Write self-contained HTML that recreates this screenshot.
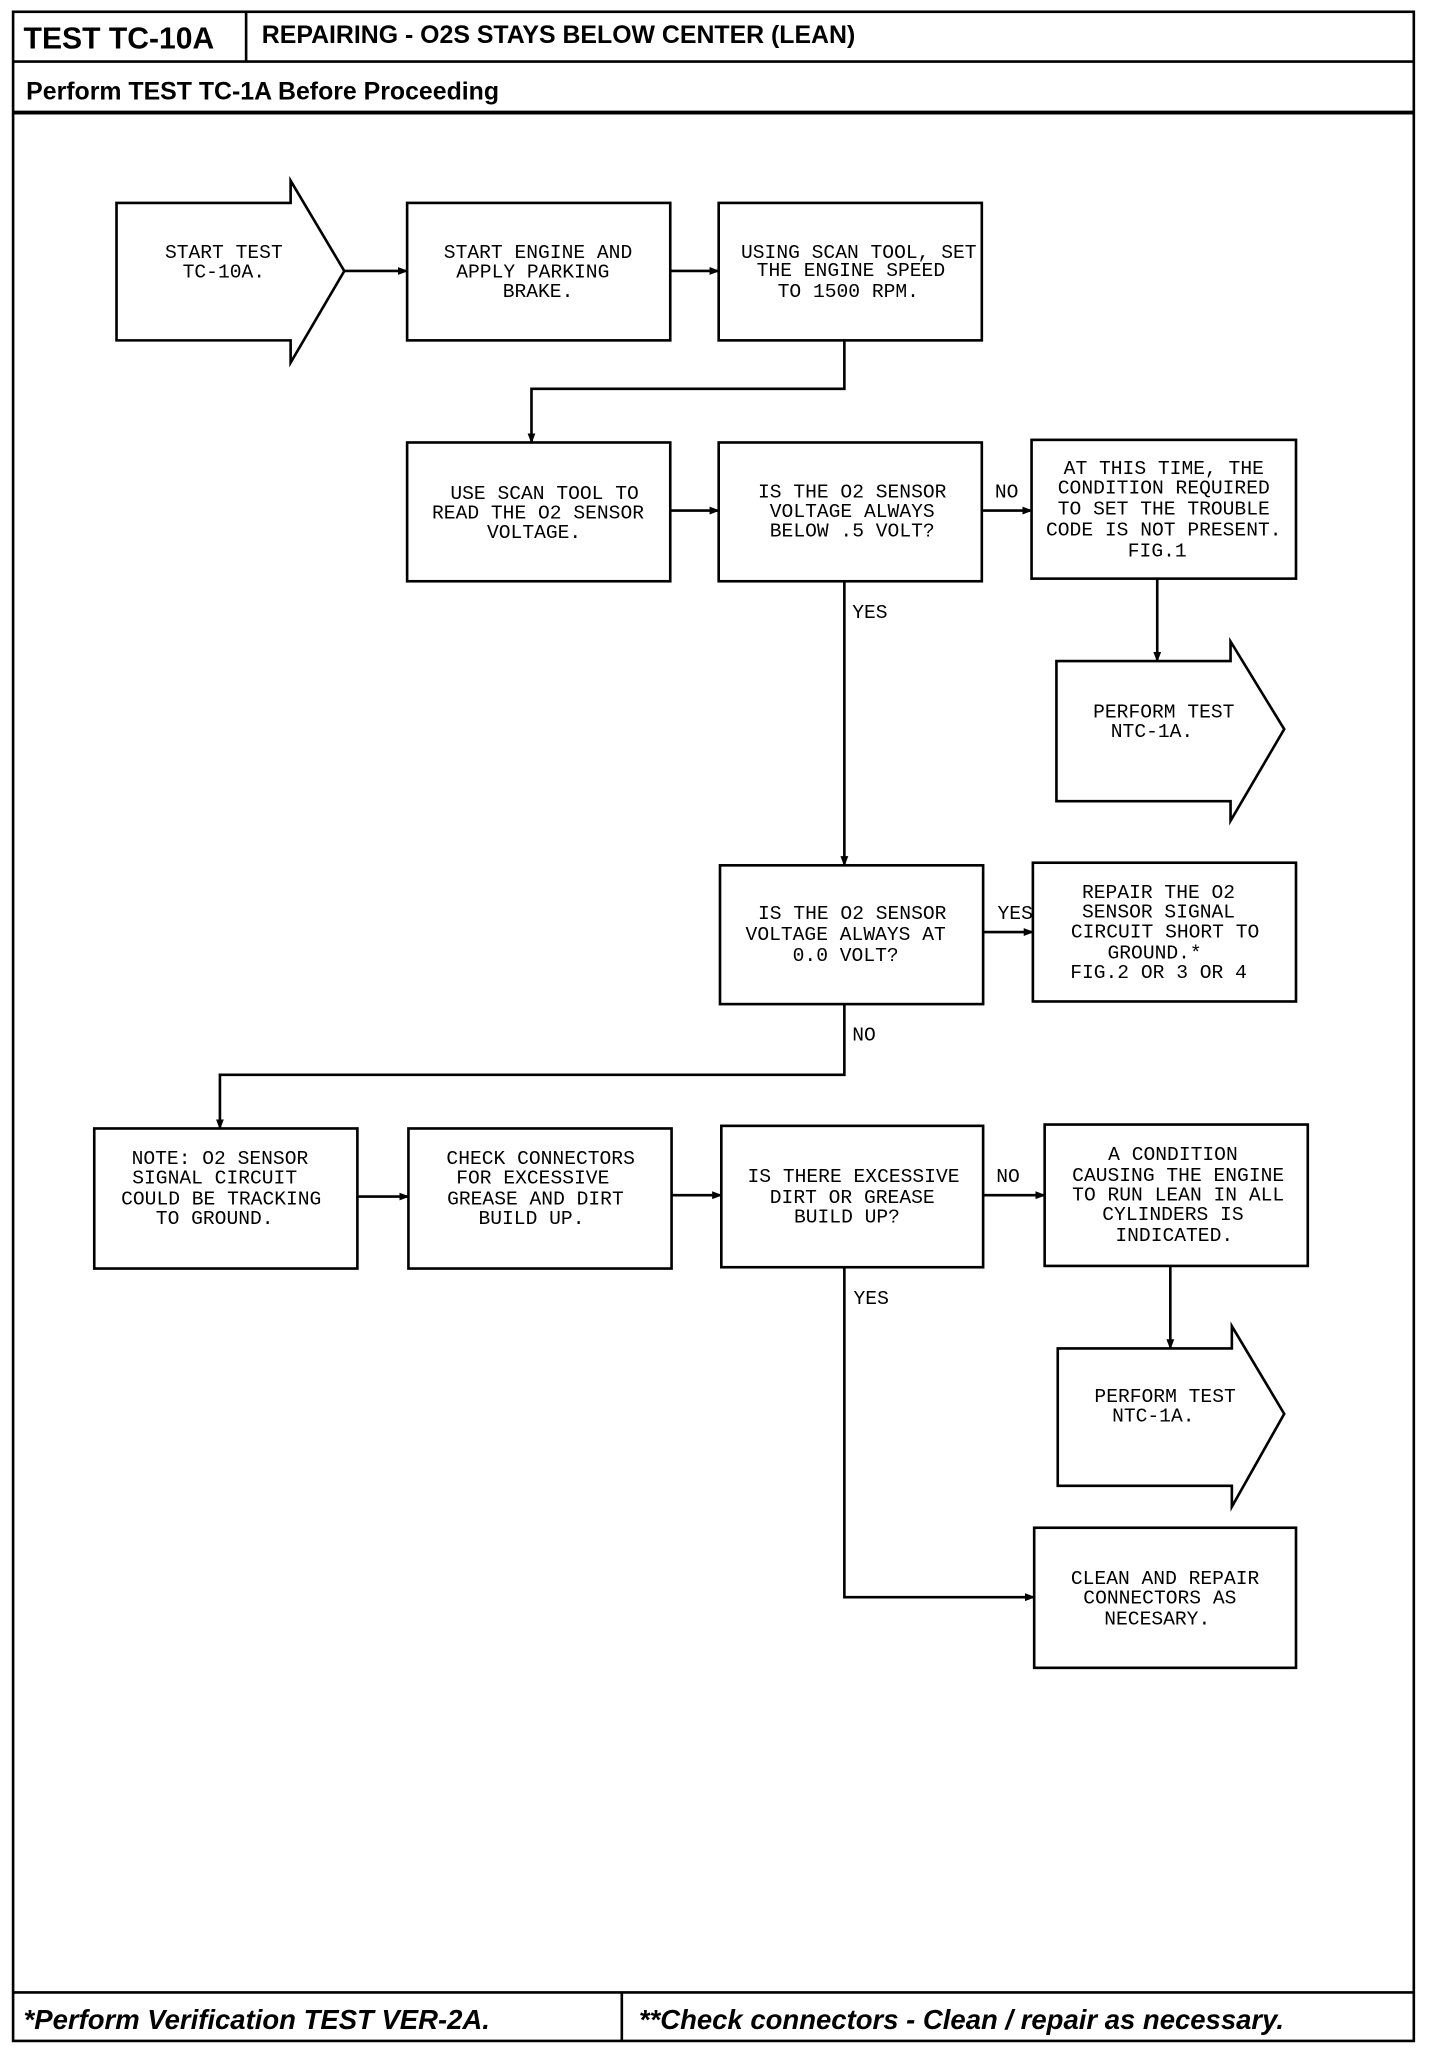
<!DOCTYPE html>
<html><head><meta charset="utf-8"><style>
html,body{margin:0;padding:0;background:#fff;}
svg{display:block;}
.t{font-family:"Liberation Mono",monospace;font-size:15px;text-anchor:middle;fill:#000;}
.h{font-family:"Liberation Sans",sans-serif;font-weight:bold;fill:#000;}
.f{font-family:"Liberation Sans",sans-serif;font-weight:bold;font-style:italic;font-size:21px;fill:#000;}
.l{font-family:"Liberation Mono",monospace;font-size:15px;fill:#000;}
</style></head><body>
<svg width="1440" height="2048" viewBox="0 0 1100 1564.4" preserveAspectRatio="none" xmlns="http://www.w3.org/2000/svg">
<defs><marker id="a" markerWidth="8" markerHeight="8" refX="7" refY="4" orient="auto" markerUnits="userSpaceOnUse"><path d="M0,1 L8,4 L0,7 z" fill="#000"/></marker></defs>
<g fill="none" stroke="#000" stroke-width="2">
<rect x="10" y="9" width="1070" height="1550"/>
<line x1="10" y1="47" x2="1080" y2="47"/>
<line x1="188" y1="9" x2="188" y2="47"/>
<line x1="10" y1="86" x2="1080" y2="86" stroke-width="3"/>
<line x1="10" y1="1522" x2="1080" y2="1522"/>
<line x1="475" y1="1522" x2="475" y2="1559"/>
<polygon points="89,155 222,155 222,138 263,207 222,277 222,260 89,260"/>
<rect x="311" y="155" width="201" height="105"/>
<rect x="549" y="155" width="201" height="105"/>
<rect x="311" y="338" width="201" height="106"/>
<rect x="549" y="338" width="201" height="106"/>
<rect x="788" y="336" width="202" height="106"/>
<polygon points="807,505 940,505 940,490 981,557 940,627 940,612 807,612"/>
<rect x="550" y="661" width="201" height="106"/>
<rect x="789" y="659" width="201" height="106"/>
<rect x="72" y="862" width="201" height="107"/>
<rect x="312" y="862" width="201" height="107"/>
<rect x="551" y="860" width="200" height="108"/>
<rect x="798" y="859" width="201" height="108"/>
<polygon points="808,1030 941,1030 941,1013 981,1080 941,1151 941,1135 808,1135"/>
<rect x="790" y="1167" width="200" height="107"/>
<g marker-end="url(#a)">
<line x1="263" y1="207" x2="311" y2="207"/>
<line x1="512" y1="207" x2="549" y2="207"/>
<polyline points="645,260 645,297 406,297 406,338"/>
<line x1="512" y1="390" x2="549" y2="390"/>
<line x1="750" y1="390" x2="788" y2="390"/>
<line x1="884" y1="442" x2="884" y2="505"/>
<line x1="645" y1="444" x2="645" y2="661"/>
<line x1="751" y1="712" x2="789" y2="712"/>
<polyline points="645,767 645,821 168,821 168,862"/>
<line x1="273" y1="914" x2="312" y2="914"/>
<line x1="513" y1="913" x2="551" y2="913"/>
<line x1="751" y1="913" x2="798" y2="913"/>
<line x1="894" y1="967" x2="894" y2="1030"/>
<polyline points="645,968 645,1220 790,1220"/>
</g>
</g>
<text class="h" x="18" y="37" font-size="23">TEST TC-10A</text>
<text class="h" x="200" y="33" font-size="19">REPAIRING - O2S STAYS BELOW CENTER (LEAN)</text>
<text class="h" x="20" y="76" font-size="19">Perform TEST TC-1A Before Proceeding</text>
<text class="f" x="18" y="1550">*Perform Verification TEST VER-2A.</text>
<text class="f" x="488" y="1550">**Check connectors - Clean / repair as necessary.</text>
<g class="t">
<text x="171" y="197">START TEST</text><text x="171" y="212">TC-10A.</text>
<text x="411" y="197">START ENGINE AND</text><text x="407" y="212">APPLY PARKING</text><text x="411" y="227">BRAKE.</text>
<text x="656" y="197">USING SCAN TOOL, SET</text><text x="650" y="211">THE ENGINE SPEED</text><text x="648" y="227">TO 1500 RPM.</text>
<text x="416" y="381">USE SCAN TOOL TO</text><text x="411" y="396">READ THE O2 SENSOR</text><text x="408" y="411">VOLTAGE.</text>
<text x="651" y="380">IS THE O2 SENSOR</text><text x="651" y="395">VOLTAGE ALWAYS</text><text x="651" y="410">BELOW .5 VOLT?</text>
<text x="889" y="362">AT THIS TIME, THE</text><text x="889" y="377">CONDITION REQUIRED</text><text x="889" y="393">TO SET THE TROUBLE</text><text x="889" y="409">CODE IS NOT PRESENT.</text><text x="884" y="425">FIG.1</text>
<text x="889" y="548">PERFORM TEST</text><text x="880" y="563">NTC-1A.</text>
<text x="651" y="702">IS THE O2 SENSOR</text><text x="646" y="718">VOLTAGE ALWAYS AT</text><text x="646" y="734">0.0 VOLT?</text>
<text x="885" y="686">REPAIR THE O2</text><text x="885" y="701">SENSOR SIGNAL</text><text x="890" y="716">CIRCUIT SHORT TO</text><text x="882" y="732">GROUND.*</text><text x="885" y="747">FIG.2 OR 3 OR 4</text>
<text x="168" y="889">NOTE: O2 SENSOR</text><text x="164" y="904">SIGNAL CIRCUIT</text><text x="169" y="920">COULD BE TRACKING</text><text x="164" y="935">TO GROUND.</text>
<text x="413" y="889">CHECK CONNECTORS</text><text x="407" y="904">FOR EXCESSIVE</text><text x="409" y="920">GREASE AND DIRT</text><text x="406" y="935">BUILD UP.</text>
<text x="652" y="903">IS THERE EXCESSIVE</text><text x="651" y="919">DIRT OR GREASE</text><text x="647" y="934">BUILD UP?</text>
<text x="896" y="886">A CONDITION</text><text x="900" y="902">CAUSING THE ENGINE</text><text x="900" y="917">TO RUN LEAN IN ALL</text><text x="896" y="932">CYLINDERS IS</text><text x="897" y="948">INDICATED.</text>
<text x="890" y="1071">PERFORM TEST</text><text x="881" y="1086">NTC-1A.</text>
<text x="890" y="1210">CLEAN AND REPAIR</text><text x="886" y="1225">CONNECTORS AS</text><text x="884" y="1241">NECESARY.</text>
</g>
<g class="l">
<text x="760" y="380">NO</text><text x="651" y="472">YES</text><text x="762" y="702">YES</text>
<text x="651" y="795">NO</text><text x="761" y="903">NO</text><text x="652" y="996">YES</text>
</g>
</svg>
</body></html>
